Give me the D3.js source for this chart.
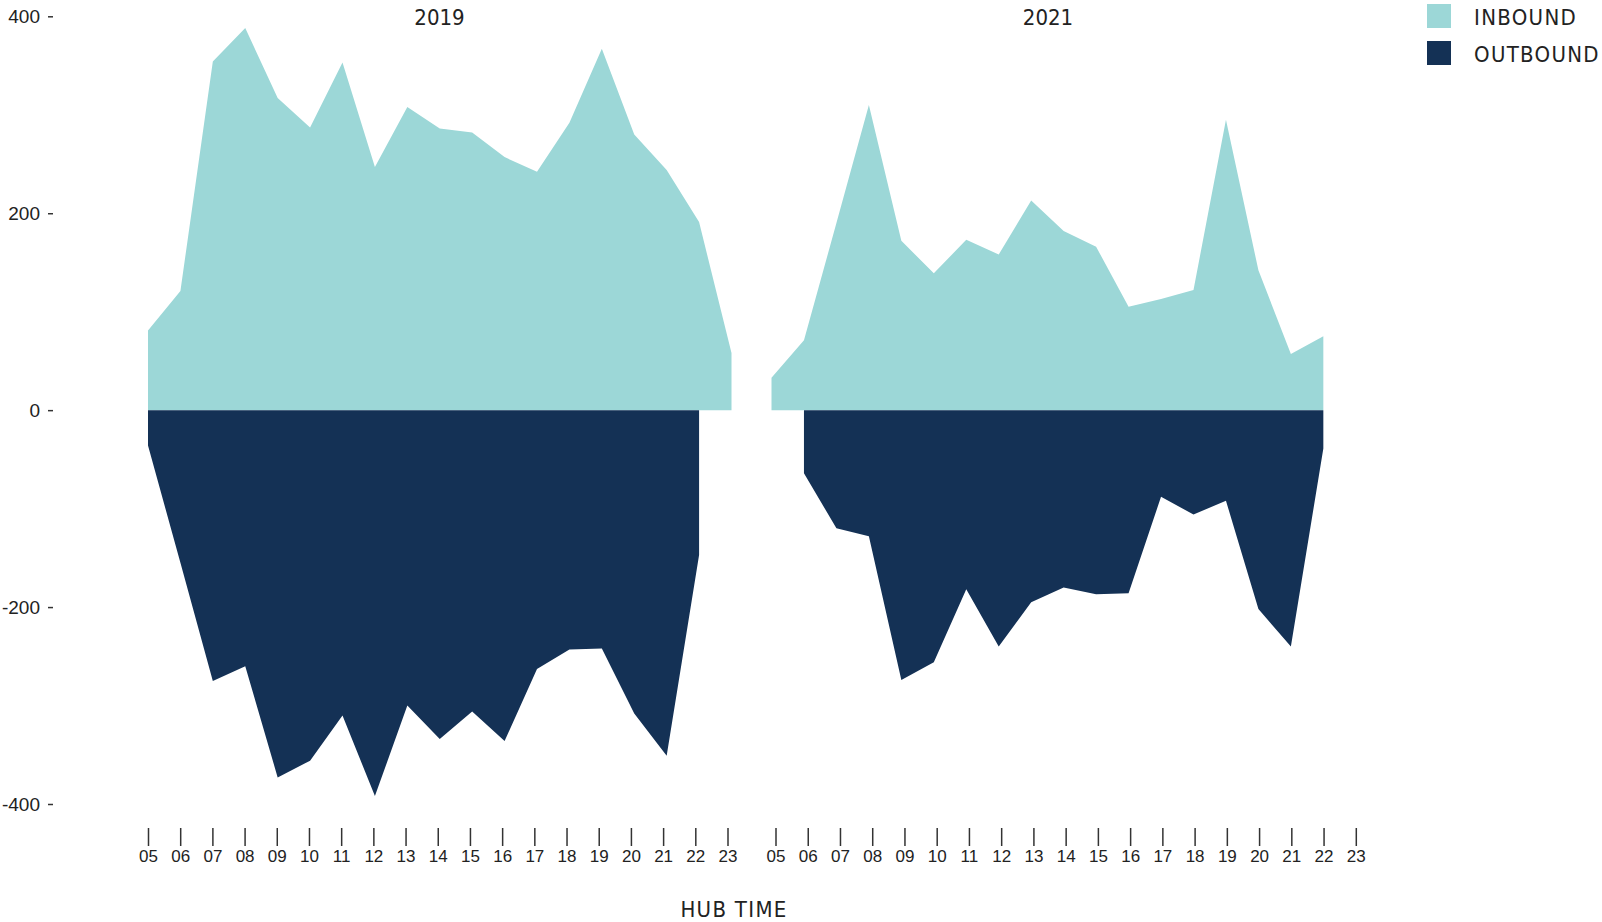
<!DOCTYPE html>
<html>
<head>
<meta charset="utf-8">
<script src="https://cdn.jsdelivr.net/npm/d3@7"></script>
<style>
  body { margin: 0; background: #fff; }
  svg { display: block; font-family: "DejaVu Sans Condensed", "DejaVu Sans", sans-serif; font-stretch: condensed; }
  .axis text { fill: #222; }
  .axis line { stroke: #333; stroke-width: 1.5; }
</style>
</head>
<body>
<svg id="viz" width="1602" height="922"></svg>
<script>
// hub hours on the x axis
var hours = ["05","06","07","08","09","10","11","12","13","14","15","16","17","18","19","20","21","22","23"];
var years = ["2019", "2021"];
var yTicks = [-400, -200, 0, 200, 400];

// inbound (positive) / outbound (negative) counts per hour, null = no data
var inbound2019  = [81, 121, 354, 388, 317, 287, 353, 247, 308, 286, 282, 257, 242, 292, 367, 280, 244, 191, 58];
var outbound2019 = [-36, -155, -275, -260, -373, -356, -310, -392, -300, -334, -306, -336, -263, -243, -242, -308, -351, -147, null];
var inbound2021  = [33, 71, 190, 310, 172, 139, 173, 158, 213, 182, 166, 105, 113, 122, 295, 142, 57, 75, null];
var outbound2021 = [null, -64, -120, -128, -274, -256, -182, -240, -195, -180, -187, -186, -88, -106, -92, -202, -240, -39, null];

var seriesNames = ["INBOUND", "OUTBOUND"];
var colors = ["#9cd7d7", "#143155"];

var svg = d3.select("#viz");

var y = d3.scaleLinear().domain([-400, 400]).range([804, 16.3]);

// per panel: axis band and data band (data sits slightly off the tick grid in the original)
var panels = [
  { year: years[0], inb: inbound2019, outb: outbound2019, tick: [148, 727.5], data: [148, 731.5], title: 439.5 },
  { year: years[1], inb: inbound2021, outb: outbound2021, tick: [775.5, 1355.8], data: [771.5, 1355.8], title: 1048 }
];

panels.forEach(function(p) {
  var xTick = d3.scalePoint().domain(hours).range(p.tick);
  var xData = d3.scalePoint().domain(hours).range(p.data);

  var area = d3.area()
    .defined(function(d) { return d.v != null; })
    .x(function(d) { return xData(d.h); })
    .y0(y(0))
    .y1(function(d) { return y(d.v); });

  [p.inb, p.outb].forEach(function(vals, i) {
    var pts = hours.map(function(h, j) { return { h: h, v: vals[j] }; });
    svg.append("path")
      .datum(pts)
      .attr("d", area)
      .attr("fill", colors[i]);
  });

  // hour axis
  var gx = svg.append("g")
    .attr("class", "axis")
    .attr("transform", "translate(0,828)")
    .call(d3.axisBottom(xTick).tickSize(18).tickPadding(4));
  gx.select(".domain").remove();
  gx.selectAll("text").attr("font-size", 17);

  svg.append("text")
    .attr("x", p.title)
    .attr("y", 25)
    .attr("text-anchor", "middle")
    .attr("font-size", 22)
    .attr("fill", "#222")
    .text(p.year);
});

// value axis (plain hyphen for negatives, like the original)
var gy = svg.append("g")
  .attr("class", "axis")
  .attr("transform", "translate(53,0)")
  .call(d3.axisLeft(y).tickValues(yTicks).tickSize(5).tickPadding(8)
    .tickFormat(function(d) { return String(d); }));
gy.select(".domain").remove();
gy.selectAll("text").attr("font-size", 19);
gy.selectAll("line").attr("stroke-width", 1.2);

// x title
svg.append("text")
  .attr("x", 734)
  .attr("y", 917)
  .attr("text-anchor", "middle")
  .attr("font-size", 22)
  .attr("letter-spacing", 1.3)
  .attr("fill", "#222")
  .text("HUB TIME");

// legend
var legend = svg.append("g").attr("transform", "translate(1427,4)");
seriesNames.forEach(function(name, i) {
  var g = legend.append("g").attr("transform", "translate(0," + (i * 37) + ")");
  g.append("rect").attr("width", 24).attr("height", 24).attr("fill", colors[i]);
  g.append("text")
    .attr("x", 47)
    .attr("y", 20.5)
    .attr("font-size", 22)
    .attr("letter-spacing", 1.3)
    .attr("fill", "#222")
    .text(name);
});
</script>
</body>
</html>
